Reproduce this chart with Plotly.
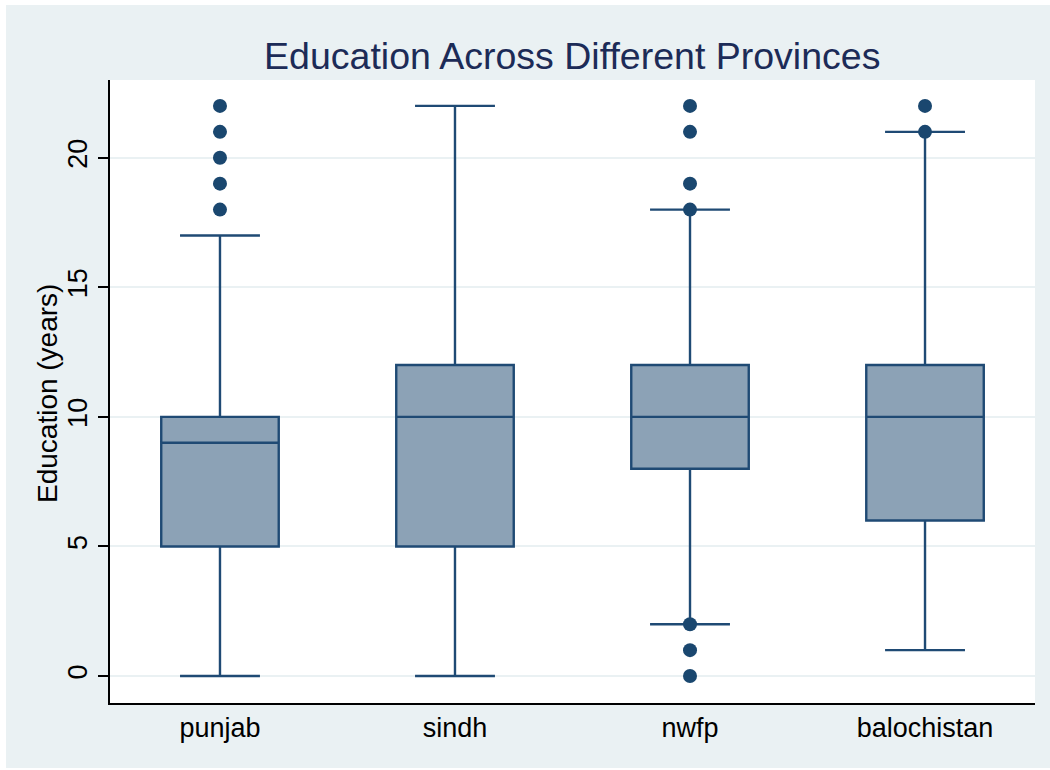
import plotly.graph_objects as go

provinces = ["punjab", "sindh", "nwfp", "balochistan"]
q1 = [5, 5, 8, 6]
median = [9, 10, 10, 10]
q3 = [10, 12, 12, 12]
lower_fence = [0, 0, 2, 1]
upper_fence = [17, 22, 18, 21]
outliers = {
    "punjab": [18, 19, 20, 21, 22],
    "sindh": [],
    "nwfp": [0, 1, 2, 18, 19, 21, 22],
    "balochistan": [21, 22],
}
y_ticks = [0, 5, 10, 15, 20]

LINE = "#1F4A74"
FILL = "#8CA2B6"
BG = "#EAF1F3"
FONT = "Liberation Sans, Arial, sans-serif"

fig = go.Figure()
fig.add_trace(go.Box(
    x=provinces, q1=q1, median=median, q3=q3,
    lowerfence=lower_fence, upperfence=upper_fence,
    fillcolor=FILL, line=dict(color=LINE, width=2.4),
    width=0.5, whiskerwidth=0.68, boxpoints=False,
    hoverinfo="skip", showlegend=False,
))
ox, oy = [], []
for p in provinces:
    for v in outliers[p]:
        ox.append(p)
        oy.append(v)
fig.add_trace(go.Scatter(
    x=ox, y=oy, mode="markers",
    marker=dict(color="#1A476F", size=14),
    showlegend=False,
))

# gray background panel with thin white margin
fig.add_shape(type="rect", xref="paper", yref="paper",
              x0=-0.1124, x1=1.02, y0=-0.1043, y1=1.1204,
              fillcolor=BG, line=dict(width=0), layer="below")
fig.add_shape(type="rect", xref="paper", yref="paper",
              x0=0, x1=1, y0=0, y1=1,
              fillcolor="white", line=dict(width=0), layer="below")

fig.add_annotation(text="Education (years)", xref="paper", yref="paper",
                   x=-0.067, y=0.496, xanchor="center", yanchor="middle",
                   textangle=-90, showarrow=False,
                   font=dict(size=28, family=FONT, color="black"))

fig.update_layout(
    width=1050, height=770,
    margin=dict(l=110, r=15, t=80, b=67),
    paper_bgcolor="white", plot_bgcolor="rgba(0,0,0,0)",
    font=dict(family=FONT, color="black"),
    title=dict(text="Education Across Different Provinces",
               font=dict(size=37.5, color="#1C2B57", family=FONT),
               x=0.545, xanchor="center", y=0.928, yanchor="middle"),
    xaxis=dict(type="category", categoryorder="array", categoryarray=provinces,
               range=[-0.468, 3.468], showline=True, linecolor="black",
               linewidth=1.5, ticks="", showgrid=False,
               tickfont=dict(size=27, family=FONT, color="black")),
    yaxis=dict(range=[-1.04, 23.0], tickvals=y_ticks, showline=True,
               linecolor="black", linewidth=1.5, ticks="outside",
               ticklen=10, tickcolor="black", tickwidth=1.5,
               tickangle=-90, showgrid=True, gridcolor=BG, gridwidth=2,
               zeroline=False, ticklabelstandoff=0,
               tickfont=dict(size=27, family=FONT, color="black")),
)

fig.write_html("out.html")
